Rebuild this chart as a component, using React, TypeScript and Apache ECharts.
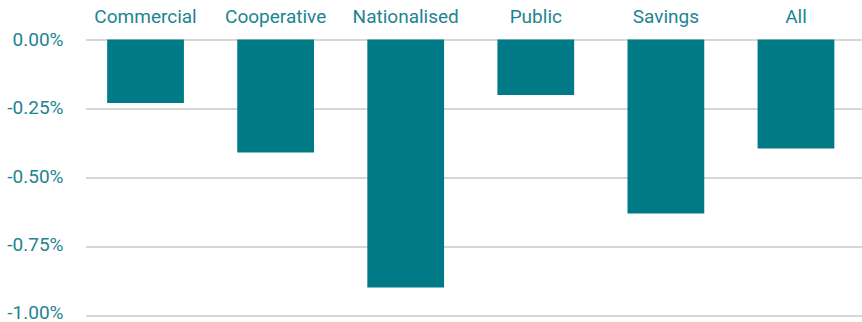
import React, { useEffect, useRef } from "react";
import * as echarts from "echarts";

const categories = ["Commercial", "Cooperative", "Nationalised", "Public", "Savings", "All"];
const values = [-0.233, -0.414, -0.908, -0.203, -0.637, -0.399];
const yMin = -1;
const yMax = 0;
const yInterval = 0.25;

const TEAL = "#007A87";
const TEXT = "#1d8491";
const FONT = "Roboto";

export default function App() {
  const ref = useRef<HTMLDivElement>(null);
  useEffect(() => {
    if (!ref.current) return;
    const chart = echarts.init(ref.current, null, { renderer: "svg" });
    chart.setOption({
      animation: false,
      grid: [
        { left: 80.5, right: 1, top: 39.5, bottom: 6 },
        { left: 86, right: 0, top: 39.5, bottom: 6 },
      ],
      xAxis: [
        {
          type: "category",
          gridIndex: 0,
          data: categories,
          position: "top",
          axisLine: { show: false },
          axisTick: { show: false },
          axisLabel: { color: TEXT, fontSize: 19, fontFamily: FONT, margin: 14, interval: 0 },
        },
        {
          type: "category",
          gridIndex: 1,
          data: categories,
          show: false,
        },
      ],
      yAxis: [
        {
          type: "value",
          gridIndex: 0,
          min: yMin,
          max: yMax,
          interval: yInterval,
          splitLine: { show: false },
          axisLine: { show: false },
          axisTick: { show: false },
          axisLabel: {
            color: TEXT,
            fontSize: 19,
            fontFamily: FONT,
            margin: 17,
            formatter: (v: number) => (Math.abs(v) < 1e-9 ? "0.00%" : v.toFixed(2) + "%"),
          },
        },
        {
          type: "value",
          gridIndex: 1,
          min: yMin,
          max: yMax,
          interval: yInterval,
          axisLine: { show: false },
          axisTick: { show: false },
          axisLabel: { show: false },
          splitLine: { show: true, lineStyle: { color: "#c8c8c8", width: 1.5 } },
        },
      ],
      series: [
        {
          type: "bar",
          xAxisIndex: 0,
          yAxisIndex: 0,
          data: values,
          barWidth: "59%",
          itemStyle: { color: TEAL },
          z: 3,
        },
      ],
    });
    return () => chart.dispose();
  }, []);
  return <div ref={ref} style={{ width: 862, height: 322, position: "absolute", left: 0, top: 0 }} />;
}
